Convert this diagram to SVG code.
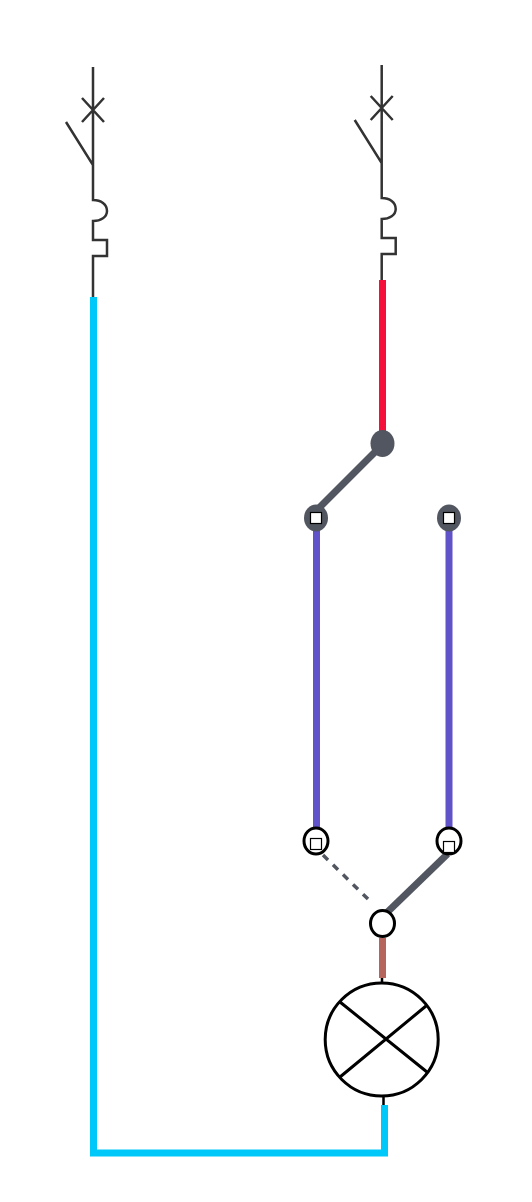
<svg xmlns="http://www.w3.org/2000/svg" width="532" height="1202" viewBox="0 0 532 1202">
<style>
.sym{fill:none;stroke:#333;stroke-width:2.500}
.blue{fill:none;stroke:#00c8f8;stroke-width:7}
.purple{stroke:#6052c8;stroke-width:7;fill:none}
.grey{stroke:#515660;stroke-width:7;fill:none}
.dot{fill:#515660}
.term{fill:#fff;stroke:#000;stroke-width:3}
.sq{fill:#fff;stroke:#000;stroke-width:1.200}
.lamp{fill:none;stroke:#000;stroke-width:3}
</style>
<defs>
<g id="breaker"><path class="sym" d="M0 0V98M-11 31L11 55M11 31L-11 55M-27 55L0 98V133C8 133 14 137 14 144C14 150 8 154 0 154V173H14V189H0V230"/></g>
</defs>
<rect width="532" height="1202" fill="#fff"/>
<g id="breaker-left"><use href="#breaker" x="93" y="67"/></g>
<g id="breaker-right"><use href="#breaker" x="381.700" y="65"/></g>
<g id="connectors">
<path class="blue" d="M93.500 297V1153H384.500V1105"/>
<path d="M382.500 280V432" stroke="#f50f3b" stroke-width="7" fill="none"/>
<path class="grey" d="M378 449L316 511"/>
<path class="purple" d="M316.500 530V829"/>
<path class="purple" d="M449 530V829"/>
<path d="M323 855L373 904" stroke="#515660" stroke-width="3.500" stroke-dasharray="7 7" fill="none"/>
<path d="M447.500 854L387.500 912" stroke="#515660" stroke-width="7" fill="none"/>
<path d="M382.500 938V978" stroke="#b5655c" stroke-width="7" fill="none"/>
<path d="M382 978V984M383.500 1095V1105" stroke="#000" stroke-width="2.500" fill="none"/>
</g>
<g id="common"><ellipse class="dot" cx="382.500" cy="443.500" rx="12" ry="13.500"/></g>
<g id="contact-left"><ellipse class="dot" cx="316" cy="518" rx="12" ry="13.500"/><rect class="sq" x="310.500" y="512.500" width="11" height="11"/></g>
<g id="contact-right"><ellipse class="dot" cx="449" cy="518" rx="12" ry="13.500"/><rect class="sq" x="443.500" y="512.500" width="11" height="11"/></g>
<g id="terminal-left"><ellipse class="term" cx="316" cy="841" rx="12" ry="13"/><rect class="sq" x="310.500" y="838.500" width="11" height="11"/></g>
<g id="terminal-right"><ellipse class="term" cx="449" cy="841" rx="12" ry="13"/><rect class="sq" x="443.500" y="841.500" width="11" height="11"/></g>
<g id="terminal-common"><ellipse class="term" cx="382.500" cy="923.500" rx="12" ry="13"/></g>
<g id="lamp"><circle class="lamp" cx="381.700" cy="1039.500" r="56.500"/><path class="lamp" d="M340 1002L427 1072M426 1006L340 1077"/></g>
</svg>
